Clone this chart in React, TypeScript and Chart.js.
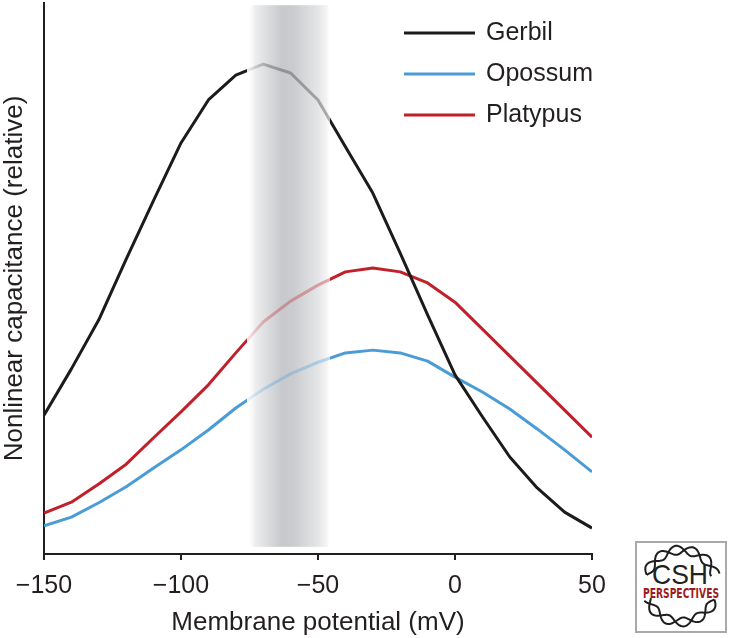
import React, { useEffect, useRef } from 'react';
import { Chart, registerables } from 'chart.js';

Chart.register(...registerables);

// ---------- data ----------
const X_VALUES = [-150, -140, -130, -120, -110, -100, -90, -80, -70, -60, -50, -40, -30, -20, -10, 0, 10, 20, 30, 40, 50];
const GERBIL = [25.2, 33.6, 42.5, 53.5, 64.2, 74.6, 82.4, 86.9, 88.9, 87.3, 82.4, 73.9, 65.5, 54.6, 43.4, 32.5, 24.9, 17.6, 12.0, 7.6, 4.7];
const OPOSSUM = [5.1, 6.7, 9.3, 12.2, 15.6, 18.9, 22.5, 26.5, 29.9, 32.7, 34.8, 36.5, 37.0, 36.5, 35.0, 32.1, 29.4, 26.3, 22.7, 18.9, 14.9];
const PLATYPUS = [7.4, 9.4, 12.7, 16.3, 21.1, 25.8, 30.7, 36.5, 42.1, 45.9, 48.8, 51.2, 51.9, 51.2, 49.2, 45.7, 40.8, 35.9, 31.0, 26.1, 21.2];
const SERIES_NAMES = ['Gerbil', 'Opossum', 'Platypus'];
const X_TICKS = [-150, -100, -50, 0, 50];
const BAND_X = [-76, -45.5];
const BAND_Y = [1.3, 99.6];
const X_TITLE = 'Membrane potential (mV)';
const Y_TITLE = 'Nonlinear capacitance (relative)';

const FONT = '"Liberation Sans", Arial, Helvetica, sans-serif';
const TEXT = '#231f20';
const RGB = ['27,27,27', '74,155,214', '192,32,42'];
const FADES = [
  [0.08, 0.3, 0.34],
  [0.12, 0.32, 0.36],
  [0.12, 0.32, 0.38],
];

function lineStroke(chart: any, rgb: string, fades: number[]) {
  const area = chart.chartArea;
  const xs = chart.scales && chart.scales.x;
  const full = `rgba(${rgb},1)`;
  if (!area || !xs) return full;
  const x0 = area.left;
  const x1 = area.right;
  const f = (v: number) => Math.min(1, Math.max(0, (xs.getPixelForValue(v) - x0) / (x1 - x0)));
  const a = f(BAND_X[0]);
  const b = f(BAND_X[1]);
  const g = chart.ctx.createLinearGradient(x0, 0, x1, 0);
  g.addColorStop(0, full);
  g.addColorStop(a, full);
  g.addColorStop(a + 0.0005, `rgba(${rgb},${fades[0]})`);
  g.addColorStop(a + (b - a) * 0.25, `rgba(${rgb},${fades[1]})`);
  g.addColorStop(b - 0.0005, `rgba(${rgb},${fades[2]})`);
  g.addColorStop(b, full);
  g.addColorStop(1, full);
  return g;
}

const bandPlugin = {
  id: 'band',
  beforeDatasetsDraw(chart: any) {
    const { ctx, scales } = chart;
    const xa = scales.x.getPixelForValue(BAND_X[0]);
    const xb = scales.x.getPixelForValue(BAND_X[1]);
    const yt = scales.y.getPixelForValue(BAND_Y[1]);
    const yb = scales.y.getPixelForValue(BAND_Y[0]);
    const g = ctx.createLinearGradient(xa, 0, xb, 0);
    g.addColorStop(0, 'rgba(255,255,255,0)');
    g.addColorStop(0.1, '#eeeeef');
    g.addColorStop(0.25, '#dbdcde');
    g.addColorStop(0.42, '#c8c9cc');
    g.addColorStop(0.55, '#cacbce');
    g.addColorStop(0.7, '#d7d8da');
    g.addColorStop(0.85, '#e4e5e7');
    g.addColorStop(0.96, '#f5f5f6');
    g.addColorStop(1, 'rgba(255,255,255,0)');
    ctx.save();
    ctx.fillStyle = g;
    ctx.fillRect(xa, yt, xb - xa, yb - yt);
    ctx.restore();
  },
};

const legendPlugin = {
  id: 'customLegend',
  afterDraw(chart: any) {
    const { ctx } = chart;
    const left = 404;
    const top = 33;
    const gap = 41;
    const len = 71;
    ctx.save();
    chart.data.datasets.forEach((ds: any, i: number) => {
      const y = top + i * gap;
      ctx.strokeStyle = `rgb(${RGB[i]})`;
      ctx.lineWidth = 3;
      ctx.beginPath();
      ctx.moveTo(left, y);
      ctx.lineTo(left + len, y);
      ctx.stroke();
      ctx.fillStyle = TEXT;
      ctx.font = `25px ${FONT}`;
      ctx.textBaseline = 'middle';
      ctx.textAlign = 'left';
      ctx.fillText(ds.label, left + len + 11, y);
    });
    ctx.restore();
  },
};

function Logo() {
  const cx = 44;
  const cy = 43;
  const R = 36;
  const amp = 4.5;
  const strand = (t0: number, t1: number, sign: number) => {
    const pts: string[] = [];
    const n = 80;
    for (let k = 0; k <= n; k++) {
      const t = t0 + ((t1 - t0) * k) / n;
      const r = R + sign * amp * Math.sin(7 * (t - t0));
      pts.push(`${(cx + r * Math.cos(t)).toFixed(2)},${(cy + r * Math.sin(t)).toFixed(2)}`);
    }
    return 'M' + pts.join(' L');
  };
  const d2r = Math.PI / 180;
  const arcs = [
    [198 * d2r, 342 * d2r],
    [22 * d2r, 158 * d2r],
  ];
  return (
    <div
      style={{
        position: 'absolute',
        left: 635,
        top: 541,
        width: 88,
        height: 88,
        border: '2px solid #a9a9a9',
        background: '#fff',
      }}
    >
      <svg width={88} height={88} viewBox="0 0 88 88">
        {arcs.map((a, i) => (
          <g key={i} fill="none" stroke="#1e1e1e" strokeWidth={2}>
            <path d={strand(a[0], a[1], 1)} />
            <path d={strand(a[0], a[1], -1)} />
          </g>
        ))}
        <text x={43} y={41} textAnchor="middle" fontFamily={FONT} fontSize={28} fill="#222" textLength={56} lengthAdjust="spacingAndGlyphs">
          CSH
        </text>
        <text x={44} y={55} textAnchor="middle" fontFamily='"Liberation Sans Narrow", "DejaVu Sans Condensed", sans-serif' fontWeight={700} fontSize={14} fill="#9e1b22" textLength={76} lengthAdjust="spacingAndGlyphs">
          PERSPECTIVES
        </text>
      </svg>
    </div>
  );
}

export default function App() {
  const canvasRef = useRef<HTMLCanvasElement | null>(null);

  useEffect(() => {
    const canvas = canvasRef.current;
    if (!canvas) return;
    const series = [GERBIL, OPOSSUM, PLATYPUS];
    const chart = new Chart(canvas, {
      type: 'line',
      data: {
        datasets: series.map((vals, i) => ({
          label: SERIES_NAMES[i],
          data: X_VALUES.map((x, j) => ({ x, y: vals[j] })),
          borderColor: (ctx: any) => lineStroke(ctx.chart, RGB[i], FADES[i]),
          borderWidth: 3,
          pointRadius: 0,
          tension: 0,
          fill: false,
          borderJoinStyle: 'round',
        })),
      },
      options: {
        responsive: false,
        devicePixelRatio: 1,
        animation: false,
        events: [],
        layout: { padding: { top: 3, right: 138, left: 0, bottom: 0 } },
        plugins: { legend: { display: false }, tooltip: { enabled: false } },
        scales: {
          x: {
            type: 'linear',
            position: 'bottom',
            min: -150,
            max: 50,
            afterBuildTicks: (s: any) => {
              s.ticks = X_TICKS.map((v) => ({ value: v }));
            },
            afterFit: (s: any) => {
              s.height = 84;
            },
            grid: { display: true, drawOnChartArea: false, drawTicks: true, tickLength: 6, color: TEXT, lineWidth: 2 },
            border: { display: true, color: TEXT, width: 2 },
            ticks: {
              color: TEXT,
              font: { family: FONT, size: 25 },
              padding: 11,
              maxRotation: 0,
              autoSkip: false,
              callback: (v: any) => (Number(v) < 0 ? '\u2212' + Math.abs(Number(v)) : String(v)),
            },
            title: {
              display: true,
              text: X_TITLE,
              color: TEXT,
              font: { family: FONT, size: 26, lineHeight: 1.08 },
              padding: { top: 0, bottom: 1 },
            },
          },
          y: {
            type: 'linear',
            min: 0,
            max: 100,
            afterFit: (s: any) => {
              s.width = 44;
            },
            grid: { display: false },
            border: { display: true, color: TEXT, width: 2 },
            ticks: { display: false },
            title: {
              display: true,
              text: Y_TITLE,
              color: TEXT,
              font: { family: FONT, size: 26, lineHeight: 1.08 },
              padding: { top: 1, bottom: 0 },
            },
          },
        },
      },
      plugins: [bandPlugin, legendPlugin],
    } as any);
    return () => chart.destroy();
  }, []);

  return (
    <div style={{ position: 'fixed', left: 0, top: 0, width: 730, height: 638, background: '#fff' }}>
      <canvas ref={canvasRef} width={730} height={638} style={{ display: 'block', width: 730, height: 638 }} />
      <Logo />
    </div>
  );
}
